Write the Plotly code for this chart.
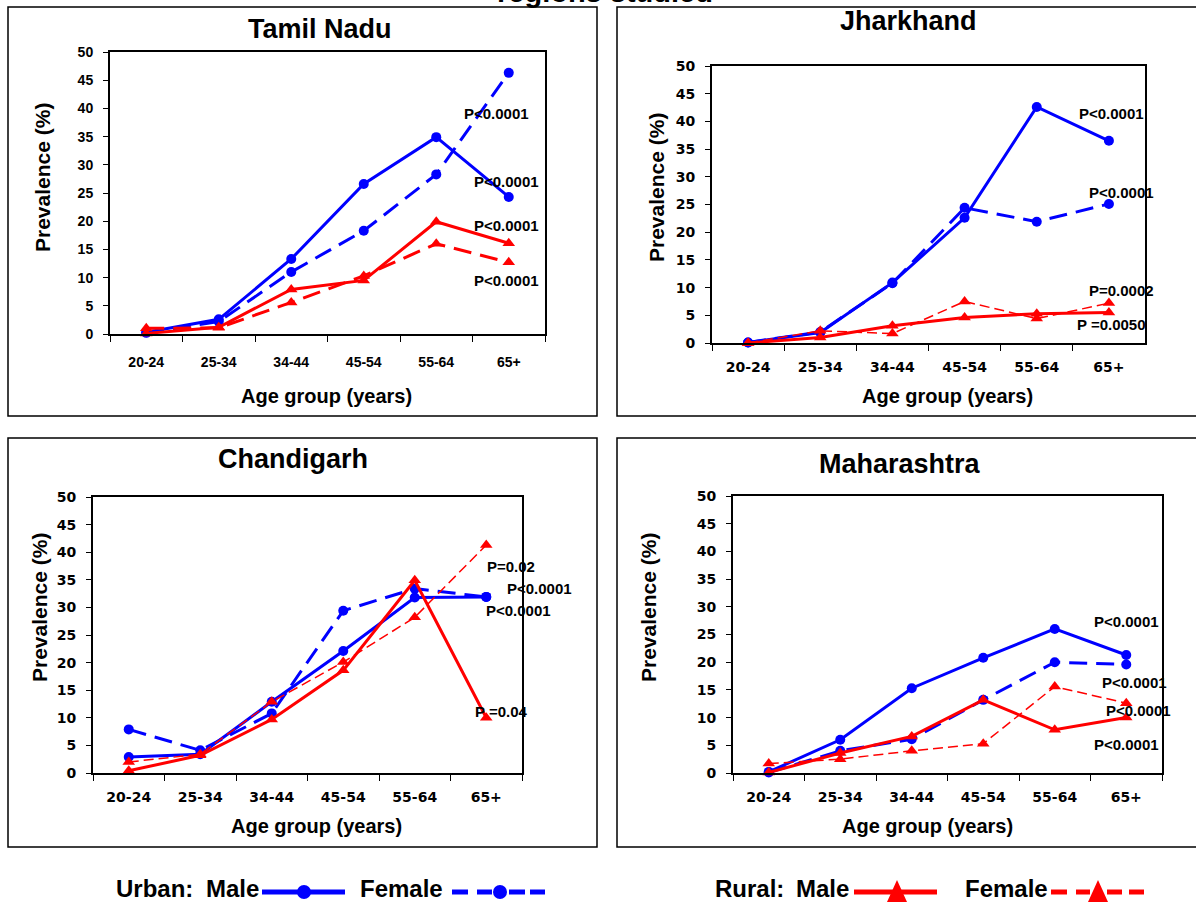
import plotly.graph_objects as go

W, H = 1196, 903

# ---------------------------------------------------------------- data
age_groups = ["20-24", "25-34", "34-44", "45-54", "55-64", "65+"]

tn_urban_male = [0.3, 2.6, 13.3, 26.6, 34.9, 24.3]
tn_urban_female = [0.2, 2.2, 11.0, 18.3, 28.3, 46.3]
tn_rural_male = [0.1, 1.2, 7.9, 9.5, 19.9, 16.1]
tn_rural_female = [1.0, 1.1, 5.6, 10.3, 16.0, 12.7]
tn_pvalues = ["P<0.0001", "P<0.0001", "P<0.0001", "P<0.0001"]

jh_urban_male = [0.1, 1.9, 10.9, 22.6, 42.6, 36.5]
jh_urban_female = [0.1, 2.0, 10.8, 24.4, 21.9, 25.1]
jh_rural_male = [0.0, 1.0, 3.1, 4.6, 5.3, 5.5]
jh_rural_female = [0.0, 2.2, 1.7, 7.5, 4.4, 7.2]
jh_pvalues = ["P<0.0001", "P<0.0001", "P=0.0002", "P =0.0050"]

ch_urban_male = [2.9, 3.4, 12.9, 22.1, 31.8, 31.9]
ch_urban_female = [7.9, 4.1, 10.8, 29.4, 33.4, 31.9]
ch_rural_male = [0.4, 3.2, 9.7, 18.6, 34.9, 10.0]
ch_rural_female = [2.0, 3.4, 12.9, 20.1, 28.2, 41.3]
ch_pvalues = ["P=0.02", "P<0.0001", "P<0.0001", "P =0.04"]

mh_urban_male = [0.2, 6.0, 15.3, 20.8, 26.0, 21.3]
mh_urban_female = [0.1, 4.0, 6.1, 13.2, 20.0, 19.6]
mh_rural_male = [0.1, 3.6, 6.6, 13.2, 7.8, 10.0]
mh_rural_female = [1.7, 2.5, 4.0, 5.3, 15.6, 12.6]
mh_pvalues = ["P<0.0001", "P<0.0001", "P<0.0001", "P<0.0001"]

BLUE = "#0000FF"
RED = "#FF0000"
ARIAL = "Liberation Sans, Arial, sans-serif"
WIDE = "DejaVu Sans, Verdana, sans-serif"


def fx(x):
    return x / W


def fy(y):
    return 1 - y / H


# ---------------------------------------------------------------- panels
panels = [
    dict(name="Tamil Nadu",
         series=[tn_urban_male, tn_urban_female, tn_rural_male, tn_rural_female],
         thin_rural_female=False,
         pvalues=tn_pvalues,
         p_pos=[(4.83, 39.1), (4.97, 27.0), (4.97, 19.3), (4.97, 9.5)],
         plot=(110, 52, 545, 334), box=(8, 7, 597, 416),
         title=(320, 29), xtitle=(326, 396), ytitle=(42, 178),
         tickfont=ARIAL, xstand=14),
    dict(name="Jharkhand",
         series=[jh_urban_male, jh_urban_female, jh_rural_male, jh_rural_female],
         thin_rural_female=True,
         pvalues=jh_pvalues,
         p_pos=[(5.03, 41.4), (5.17, 27.2), (5.18, 9.4), (5.04, 3.4)],
         plot=(712, 66, 1145, 343), box=(617, 7, 1210, 416),
         title=(908, 21), xtitle=(947, 396), ytitle=(657, 188),
         tickfont=WIDE, xstand=10),
    dict(name="Chandigarh",
         series=[ch_urban_male, ch_urban_female, ch_rural_male, ch_rural_female],
         thin_rural_female=True,
         pvalues=ch_pvalues,
         p_pos=[(5.34, 37.5), (5.74, 33.4), (5.45, 29.4), (5.21, 11.1)],
         plot=(93, 497, 522, 773), box=(8, 438, 597, 847),
         title=(293, 459), xtitle=(316, 826), ytitle=(39, 608),
         tickfont=WIDE, xstand=10),
    dict(name="Maharashtra",
         series=[mh_urban_male, mh_urban_female, mh_rural_male, mh_rural_female],
         thin_rural_female=True,
         pvalues=mh_pvalues,
         p_pos=[(5.01, 27.3), (5.11, 16.3), (5.17, 11.2), (5.01, 5.1)],
         plot=(733, 496, 1162, 773), box=(617, 438, 1210, 847),
         title=(900, 464), xtitle=(927, 826), ytitle=(648, 608),
         tickfont=WIDE, xstand=10),
]

# annotations placed past the last category are anchored inside the axis
# range and pushed outwards by a pixel shift
X_LIMIT = 5.45

fig = go.Figure()
annotations = []
shapes = []
layout_axes = {}

for i, p in enumerate(panels, start=1):
    sfx = "" if i == 1 else str(i)
    xa, ya = "x" + sfx, "y" + sfx
    x0, y0, x1, y1 = p["plot"]
    cat_px = (x1 - x0) / len(age_groups)

    styles = [
        dict(color=BLUE, dash="solid", width=3, symbol="circle", size=10),
        dict(color=BLUE, dash="18px,9px", width=3, symbol="circle", size=10),
        dict(color=RED, dash="solid", width=3, symbol="triangle-up", size=11),
        dict(color=RED, dash="10px,5px" if p["thin_rural_female"] else "18px,9px",
             width=1.5 if p["thin_rural_female"] else 3,
             symbol="triangle-up", size=11),
    ]
    for vals, st in zip(p["series"], styles):
        fig.add_trace(go.Scatter(
            x=age_groups, y=vals, xaxis=xa, yaxis=ya, mode="lines+markers",
            line=dict(color=st["color"], width=st["width"], dash=st["dash"]),
            marker=dict(color=st["color"], symbol=st["symbol"], size=st["size"],
                        line=dict(width=0)),
            showlegend=False, cliponaxis=False, hoverinfo="skip"))

    layout_axes["xaxis" + sfx] = dict(
        domain=[fx(x0), fx(x1)], anchor=ya, type="category",
        categoryorder="array", categoryarray=age_groups, range=[-0.5, 5.5],
        showline=True, linecolor="black", linewidth=2, mirror=True,
        ticks="outside", tickson="boundaries", ticklen=6, tickwidth=1,
        tickcolor="black", showgrid=False, zeroline=False, automargin=False,
        ticklabelstandoff=p["xstand"],
        tickfont=dict(family=p["tickfont"], size=14, color="black",
                      weight="bold"),
        fixedrange=True)
    layout_axes["yaxis" + sfx] = dict(
        domain=[fy(y1), fy(y0)], anchor=xa, range=[0, 50], dtick=5,
        tick0=0, showline=True, linecolor="black", linewidth=2, mirror=True,
        ticks="outside", ticklen=5, tickwidth=1, tickcolor="black",
        showgrid=False, zeroline=False, automargin=False, ticklabelstandoff=7,
        tickfont=dict(family=p["tickfont"], size=14, color="black",
                      weight="bold"),
        fixedrange=True)

    bx0, by0, bx1, by1 = p["box"]
    shapes.append(dict(type="rect", xref="paper", yref="paper",
                       x0=fx(bx0), x1=fx(bx1), y0=fy(by1), y1=fy(by0),
                       line=dict(color="black", width=1.5), layer="below"))

    annotations.append(dict(
        text=p["name"], xref="paper", yref="paper",
        x=fx(p["title"][0]), y=fy(p["title"][1]), xanchor="center",
        yanchor="middle", showarrow=False,
        font=dict(family=ARIAL, size=27, color="black", weight="bold")))
    annotations.append(dict(
        text="Age group (years)", xref="paper", yref="paper",
        x=fx(p["xtitle"][0]), y=fy(p["xtitle"][1]), xanchor="center",
        yanchor="middle", showarrow=False,
        font=dict(family=ARIAL, size=20, color="black", weight="bold")))
    annotations.append(dict(
        text="Prevalence (%)", xref="paper", yref="paper",
        x=fx(p["ytitle"][0]), y=fy(p["ytitle"][1]), xanchor="center",
        yanchor="middle", showarrow=False, textangle=-90,
        font=dict(family=ARIAL, size=21, color="black", weight="bold")))

    for txt, (px_, py_) in zip(p["pvalues"], p["p_pos"]):
        anchor_x = min(px_, X_LIMIT)
        annotations.append(dict(
            text=txt, xref=xa, yref=ya, x=anchor_x, y=py_,
            xshift=(px_ - anchor_x) * cat_px, xanchor="center",
            yanchor="middle", showarrow=False,
            font=dict(family=ARIAL, size=15, color="black", weight="bold")))

# heading (only its lower edge falls inside the page)
annotations.append(dict(
    text="regions studied", xref="paper", yref="paper",
    x=fx(715), y=fy(10), xanchor="right", yanchor="bottom", showarrow=False,
    font=dict(family=ARIAL, size=29, color="black", weight="bold")))

# ---------------------------------------------------------------- legend
LEG_Y = 891
LEG_TEXT_Y = 888.5
legend_font = dict(family=ARIAL, size=24, color="black", weight="bold")
for txt, x in [("Urban:", 114), ("Male", 204), ("Female", 358),
               ("Rural:", 713), ("Male", 794), ("Female", 963)]:
    annotations.append(dict(text=txt, xref="paper", yref="paper", x=fx(x),
                            y=fy(LEG_TEXT_Y), xanchor="left", yanchor="middle",
                            showarrow=False, font=legend_font))


def seg(xa_, xb_, color):
    shapes.append(dict(type="line", xref="paper", yref="paper",
                       x0=fx(xa_), x1=fx(xb_), y0=fy(LEG_Y + 1),
                       y1=fy(LEG_Y + 1), line=dict(color=color, width=5)))


def dot(cx, color):
    r = 7
    shapes.append(dict(type="circle", xref="paper", yref="paper",
                       x0=fx(cx - r), x1=fx(cx + r), y0=fy(LEG_Y + 1 + r),
                       y1=fy(LEG_Y + 1 - r), fillcolor=color,
                       line=dict(color=color, width=0)))


def tri(cx, color):
    half, top, base = 10, LEG_Y - 11, LEG_Y + 11
    path = "M {} {} L {} {} L {} {} Z".format(
        fx(cx - half), fy(base), fx(cx), fy(top), fx(cx + half), fy(base))
    shapes.append(dict(type="path", xref="paper", yref="paper", path=path,
                       fillcolor=color, line=dict(color=color, width=0)))


# urban male / female
seg(262, 345, BLUE)
dot(304, BLUE)
for a, b in [(452, 468), (477, 492), (509, 525), (530, 545)]:
    seg(a, b, BLUE)
dot(500, BLUE)
# rural male / female
seg(854, 937, RED)
tri(897, RED)
for a, b in [(1051, 1067), (1076, 1090), (1107, 1122), (1129, 1144)]:
    seg(a, b, RED)
tri(1098, RED)

fig.update_layout(
    width=W, height=H,
    margin=dict(l=0, r=0, t=0, b=0, pad=0, autoexpand=False),
    paper_bgcolor="white", plot_bgcolor="white",
    annotations=annotations, shapes=shapes, showlegend=False,
    **layout_axes)

fig.write_html("out.html")
